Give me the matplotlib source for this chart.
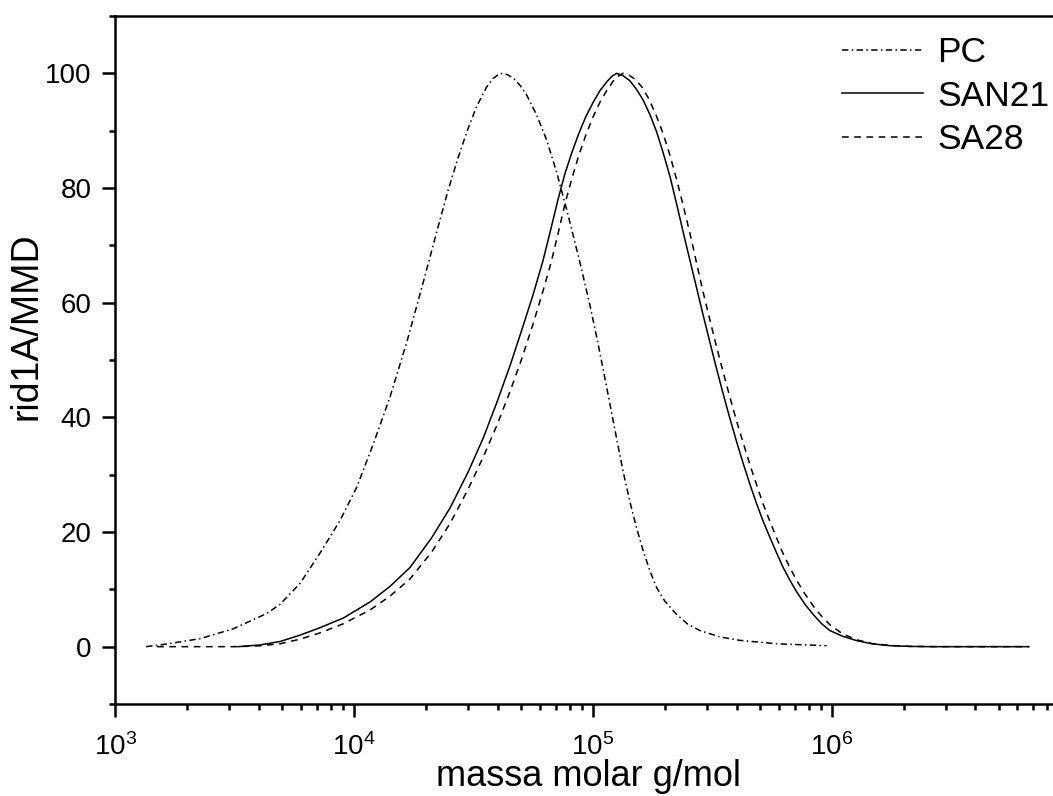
import numpy as np
import matplotlib
matplotlib.use("Agg")
import matplotlib.pyplot as plt
from matplotlib.ticker import FixedLocator, MultipleLocator, NullFormatter

plt.rcParams['font.family'] = ['Liberation Sans', 'DejaVu Sans']
plt.rcParams['mathtext.fontset'] = 'custom'
plt.rcParams['mathtext.rm'] = 'Liberation Sans'
plt.rcParams['lines.scale_dashes'] = False

# ---- data: log10(molar mass g/mol) and normalised response ----
pc_logM = [3.129, 3.217, 3.355, 3.493, 3.635, 3.690, 3.773, 3.857, 3.941, 4.011,
           4.080, 4.150, 4.220, 4.290, 4.347, 4.393, 4.435, 4.473, 4.513, 4.555,
           4.582, 4.611, 4.640, 4.667, 4.695, 4.723, 4.765, 4.807, 4.848, 4.890,
           4.946, 4.988, 5.016, 5.044, 5.072, 5.100, 5.127, 5.155, 5.183, 5.211,
           5.239, 5.267, 5.302, 5.351, 5.398, 5.449, 5.532, 5.616, 5.770, 5.979]
pc_val = [0.0, 0.47, 1.4, 3.1, 5.8, 7.4, 11.0, 16.3, 22.0, 27.8,
          35.3, 43.5, 53.0, 63.6, 72.5, 79.5, 85.2, 89.9, 94.2, 97.6,
          99.1, 100.0, 99.8, 99.2, 97.9, 96.2, 92.7, 88.3, 82.8, 76.3,
          67.0, 59.5, 54.0, 48.2, 42.2, 36.2, 30.5, 25.3, 20.7, 16.7,
          13.2, 10.3, 7.9, 5.6, 3.9, 2.8, 1.7, 1.1, 0.5, 0.17]

san21_logM = [3.514, 3.606, 3.690, 3.773, 3.857, 3.955, 4.067, 4.150, 4.234, 4.325,
              4.402, 4.478, 4.540, 4.597, 4.653, 4.702, 4.749, 4.791, 4.825, 4.854,
              4.883, 4.913, 4.942, 4.971, 5.002, 5.030, 5.058, 5.080, 5.100, 5.126,
              5.155, 5.183, 5.211, 5.239, 5.267, 5.294, 5.323, 5.352, 5.381, 5.407,
              5.436, 5.462, 5.490, 5.518, 5.545, 5.574, 5.603, 5.630, 5.658, 5.686,
              5.712, 5.742, 5.770, 5.797, 5.825, 5.853, 5.888, 5.923, 5.958, 5.993,
              6.047, 6.105, 6.169, 6.244, 6.328, 6.412, 6.826]
san21_val = [0.0, 0.3, 0.9, 2.0, 3.3, 5.0, 7.8, 10.5, 13.8, 19.0,
             24.2, 30.5, 36.3, 42.5, 49.0, 55.2, 61.3, 67.3, 73.0, 78.0,
             82.5, 86.3, 89.6, 92.5, 95.0, 97.0, 98.5, 99.5, 100.0, 99.6,
             98.7, 97.2, 95.3, 92.8, 89.8, 86.2, 82.0, 77.0, 71.8, 67.3,
             62.3, 57.8, 53.1, 48.5, 44.2, 39.8, 35.6, 31.9, 28.3, 24.9,
             22.0, 19.0, 16.3, 13.8, 11.6, 9.6, 7.4, 5.6, 4.0, 2.8,
             1.8, 1.05, 0.5, 0.17, 0.05, 0.0, 0.0]

sa28_logM = [3.175, 3.514, 3.606, 3.690, 3.773, 3.857, 3.955, 4.067, 4.150, 4.234,
             4.325, 4.402, 4.478, 4.540, 4.597, 4.653, 4.702, 4.749, 4.791, 4.825,
             4.854, 4.883, 4.913, 4.942, 4.971, 5.002, 5.030, 5.058, 5.084, 5.109,
             5.126, 5.147, 5.176, 5.206, 5.235, 5.264, 5.294, 5.323, 5.352, 5.381,
             5.411, 5.436, 5.462, 5.490, 5.518, 5.545, 5.574, 5.603, 5.630, 5.658,
             5.686, 5.712, 5.742, 5.770, 5.797, 5.825, 5.853, 5.888, 5.923, 5.958,
             5.993, 6.047, 6.105, 6.169, 6.244, 6.328, 6.454, 6.826]
sa28_val = [0.0, 0.0, 0.15, 0.5, 1.3, 2.4, 4.0, 6.4, 8.8, 11.8,
            16.5, 21.5, 27.5, 33.0, 38.5, 44.5, 50.2, 56.2, 62.0, 67.0,
            72.0, 77.2, 81.8, 85.8, 89.3, 92.5, 95.0, 97.0, 98.6, 99.6,
            100.0, 99.8, 99.0, 97.6, 95.5, 92.8, 89.5, 85.7, 81.3, 76.5,
            71.3, 66.6, 61.8, 57.0, 52.3, 48.0, 43.5, 39.2, 35.5, 31.7,
            28.2, 25.0, 21.8, 18.9, 16.2, 13.8, 11.6, 9.2, 7.1, 5.3,
            3.8, 2.2, 1.2, 0.55, 0.2, 0.05, 0.0, 0.0]

labels = ['PC', 'SAN21', 'SA28']
x_major = [1e3, 1e4, 1e5, 1e6]
x_major_labels = [r'$\mathregular{10^{3}}$', r'$\mathregular{10^{4}}$',
                  r'$\mathregular{10^{5}}$', r'$\mathregular{10^{6}}$']
y_major = [0, 20, 40, 60, 80, 100]

W, H = 1053, 796
fig = plt.figure(figsize=(W / 100, H / 100), dpi=100)
ax = fig.add_axes([115.3 / W, (H - 704) / H, 1 - 115.3 / W, 688 / H])

lw = 1.1
ax.plot(10 ** np.array(pc_logM), pc_val, color='black', lw=lw,
        linestyle=(0, (4.6, 2.4, 1.1, 2.4)), label=labels[0])
ax.plot(10 ** np.array(san21_logM), san21_val, color='black', lw=lw,
        linestyle='-', label=labels[1])
ax.plot(10 ** np.array(sa28_logM), sa28_val, color='black', lw=lw,
        linestyle=(0, (4.8, 4.0)), label=labels[2])

ax.set_xscale('log')
ax.set_xlim(1e3, 10 ** 6.927)
ax.set_ylim(-10, 110)

ax.xaxis.set_major_locator(FixedLocator(x_major))
ax.set_xticklabels(x_major_labels)
minors = [m * 10 ** e for e in range(3, 7) for m in range(2, 10)]
ax.xaxis.set_minor_locator(FixedLocator(minors))
ax.xaxis.set_minor_formatter(NullFormatter())
ax.set_yticks(y_major)
ax.yaxis.set_minor_locator(MultipleLocator(10))

for s in ['left', 'bottom', 'top']:
    ax.spines[s].set_linewidth(1.8)
ax.spines['right'].set_visible(False)

ax.tick_params(which='major', direction='out', length=9.3, width=1.8,
               labelsize=20, top=False, right=False)
ax.tick_params(axis='y', which='major', pad=8)
ax.tick_params(axis='x', which='major', pad=11.5)
ax.tick_params(which='minor', direction='out', length=4.5, width=1.8,
               top=False, right=False)

ax.set_xlabel('massa molar g/mol', fontsize=26)
ax.set_ylabel('rid1A/MMD', fontsize=27)
ax.xaxis.set_label_coords(0.505, -0.080)
ax.yaxis.set_label_coords(-0.076, 0.549)

leg = ax.legend(loc='upper left', bbox_to_anchor=(841.7 / W, 1 - 36 / H),
                bbox_transform=fig.transFigure, frameon=False, fontsize=25.5,
                handlelength=2.29, handletextpad=0.4, labelspacing=0.3,
                borderpad=0, borderaxespad=0)

fig.savefig('out.png', dpi=100)
